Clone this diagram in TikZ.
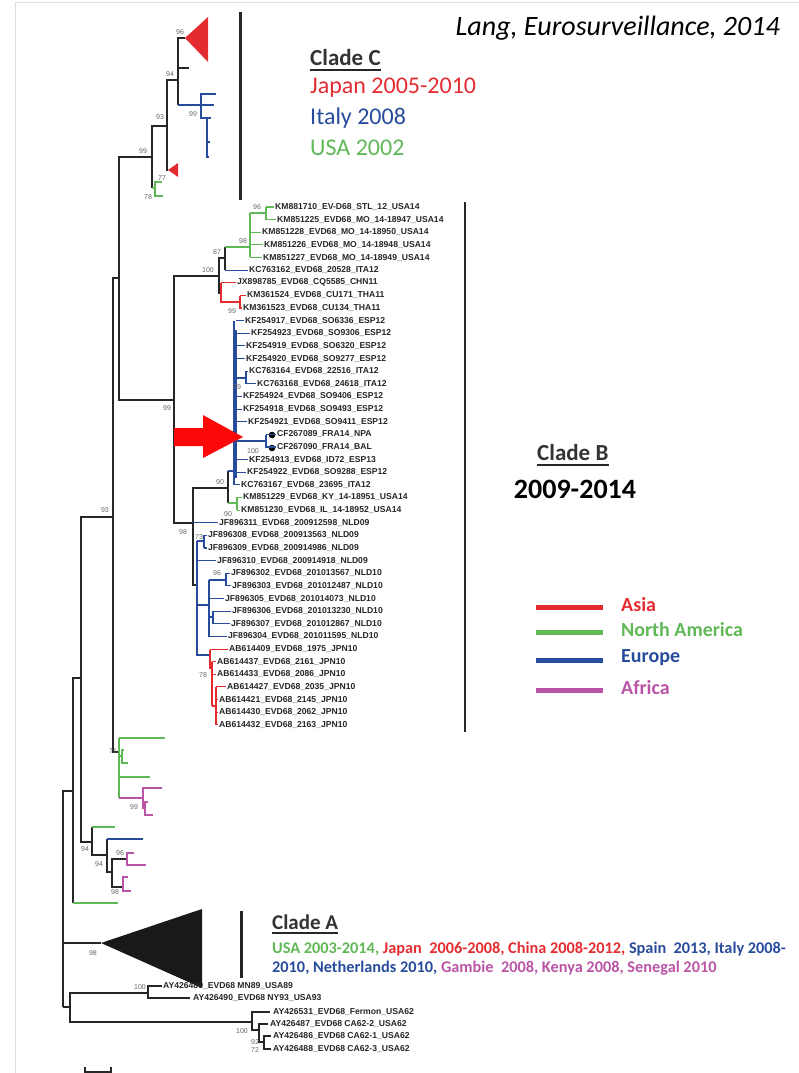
\documentclass[tikz,border=0pt]{standalone}
\usepackage{fontspec}
\setmainfont{Carlito}
\newfontfamily\tipfont{Liberation Sans}
\usetikzlibrary{calc}
\definecolor{asia}{RGB}{228,44,48}
\definecolor{namer}{RGB}{96,184,86}
\definecolor{europe}{RGB}{40,76,156}
\definecolor{africa}{RGB}{186,84,166}
\definecolor{arrowred}{RGB}{252,8,8}
\tikzset{
  br/.style={line width=1.1pt, black!85},
  tiplab/.style={anchor=west, inner sep=0pt, text=black!85,
    font=\tipfont\bfseries\fontsize{8.6}{8.6}\selectfont},
  boot/.style={inner sep=0pt, text=black!60, font=\tipfont\fontsize{7}{7}\selectfont},
  cladebar/.style={line width=3pt, black!85},
  ul/.style={line width=2.2pt, black!85},
  legline/.style={line width=5pt},
}
\begin{document}
\begin{tikzpicture}[x=1pt, y=-1pt]
  \useasboundingbox (0,0) rectangle (799,1073);
  \draw[black!12, line width=1pt] (799,3) -- (15,3) -- (15,1073);

  % backbone
  \draw[br, line width=1.6pt] (73,791) -| (63,1007);
  \draw[br] (63,943) -- (101,943);
  \draw[br] (81,678) -| (73,903);
  \draw[br, namer] (73,903) -- (118,903);
  \draw[br] (113,517) -| (81,842) -- (92,842);
  \draw[br] (119,278) -| (113,752) -- (119,752);
  \draw[br] (152,157) -| (119,400) -- (174,400);

  % clade C
  \draw[br] (167,126) -| (152,188);
  \draw[br, namer] (152,188) -- (155,188);
  \draw[br, namer] (162,182) -| (155,196) -- (163,196);
  \draw[br] (178,80) -| (167,170) -- (168,170);
  \fill[asia] (168,170) -- (178,163) -- (178,177) -- cycle;
  \draw[br] (185,38) -| (178,105);
  \draw[br, line width=2pt] (178,57) -- (178,80);
  \draw[br] (178,68) -- (189,68);
  \fill[asia] (185,38) -- (208,17) -- (208,62) -- cycle;
  \draw[br, europe] (178,105) -- (214,105);
  \draw[br, europe] (216,94) -| (201,118) -- (207,118) -- (211,118);
  \draw[br, europe] (207,118) -- (207,157) -- (209,157);
  \draw[br, europe] (207,142) -- (210,142);
  \draw[cladebar] (240,12) -- (240,200);

  % clade B
  \draw[br] (219,276) -| (174,523) -- (193,523);
  \draw[br] (225,258) -| (219,293) -- (221,293);
  \draw[br] (225,247) -- (225,270);
  \draw[br, namer] (225,247) -- (250,247);
  \draw[br, namer] (250,213) -- (250,257);
  \draw[br, namer] (250,213) -- (266,213);
  \draw[br, namer] (266,207) -- (266,220);
  \draw[br, asia] (221,283) -- (221,302) -- (240,302);
  \draw[br, asia] (240,296) -- (240,309);
  \draw[br] (228,488) -| (193,585) -- (197,585);
  \draw[br] (228,471) -- (228,503);
  \draw[br, europe] (228,471) -- (234,471);
  \draw[br, europe] (234,321) -- (234,485);
  \draw[br, europe, line width=1.5pt] (236,330) -- (236,478);
  \draw[br, europe] (236,378) -- (246,378);
  \draw[br, europe] (246,371) -- (246,384);
  \draw[br, europe] (236,441) -- (266,441);
  \draw[br, europe] (266,435) -- (266,448);
  \fill (272,435) circle (3.3);
  \fill (272,448) circle (3.3);
  \draw[br, namer] (228,503) -- (237,503);
  \draw[br, namer] (237,497) -- (237,510);
  \draw[br, europe] (197,541) -- (197,655) -- (210,655);
  \draw[br, europe] (197,541) -- (204,541);
  \draw[br, europe] (204,535) -- (204,548);
  \draw[br, europe] (197,605) -- (209,605);
  \draw[br, europe] (209,580) -- (209,637);
  \draw[br, europe] (209,580) -- (226,580);
  \draw[br, europe] (226,573) -- (226,586);
  \draw[br, europe] (209,617) -- (213,617);
  \draw[br, europe] (213,611) -- (213,624);
  \draw[br, asia] (210,650) -- (210,668) -- (212,668);
  \draw[br, asia, line width=1.8pt] (212,662) -- (212,706);
  \draw[br, asia] (212,706) -- (216,706);
  \draw[br, asia] (216,687) -- (216,725);
  \draw[cladebar, line width=2.5pt] (465,202) -- (465,732);

  % tips of clade B: row / parent x / label x / colour / name
  \foreach \r/\p/\x/\c/\t in {
    1/266/275/namer/KM881710\_EV-D68\_STL\_12\_USA14,
    2/266/277/namer/KM851225\_EVD68\_MO\_14-18947\_USA14,
    3/250/262/namer/KM851228\_EVD68\_MO\_14-18950\_USA14,
    4/250/264/namer/KM851226\_EVD68\_MO\_14-18948\_USA14,
    5/250/263/namer/KM851227\_EVD68\_MO\_14-18949\_USA14,
    6/225/249/europe/KC763162\_EVD68\_20528\_ITA12,
    7/221/237/asia/JX898785\_EVD68\_CQ5585\_CHN11,
    8/240/247/asia/KM361524\_EVD68\_CU171\_THA11,
    9/240/243/asia/KM361523\_EVD68\_CU134\_THA11,
    10/236/245/europe/KF254917\_EVD68\_SO6336\_ESP12,
    11/236/251/europe/KF254923\_EVD68\_SO9306\_ESP12,
    12/236/246/europe/KF254919\_EVD68\_SO6320\_ESP12,
    13/236/246/europe/KF254920\_EVD68\_SO9277\_ESP12,
    14/246/249/europe/KC763164\_EVD68\_22516\_ITA12,
    15/246/257/europe/KC763168\_EVD68\_24618\_ITA12,
    16/236/243/europe/KF254924\_EVD68\_SO9406\_ESP12,
    17/236/243/europe/KF254918\_EVD68\_SO9493\_ESP12,
    18/236/248/europe/KF254921\_EVD68\_SO9411\_ESP12,
    19/266/277/europe/CF267089\_FRA14\_NPA,
    20/266/277/europe/CF267090\_FRA14\_BAL,
    21/236/249/europe/KF254913\_EVD68\_ID72\_ESP13,
    22/236/247/europe/KF254922\_EVD68\_SO9288\_ESP12,
    23/234/241/europe/KC763167\_EVD68\_23695\_ITA12,
    24/237/243/namer/KM851229\_EVD68\_KY\_14-18951\_USA14,
    25/237/241/namer/KM851230\_EVD68\_IL\_14-18952\_USA14,
    26/193/219/europe/JF896311\_EVD68\_200912598\_NLD09,
    27/204/208/europe/JF896308\_EVD68\_200913563\_NLD09,
    28/204/208/europe/JF896309\_EVD68\_200914986\_NLD09,
    29/197/217/europe/JF896310\_EVD68\_200914918\_NLD09,
    30/226/231/europe/JF896302\_EVD68\_201013567\_NLD10,
    31/226/232/europe/JF896303\_EVD68\_201012487\_NLD10,
    32/209/225/europe/JF896305\_EVD68\_201014073\_NLD10,
    33/213/232/europe/JF896306\_EVD68\_201013230\_NLD10,
    34/213/231/europe/JF896307\_EVD68\_201012867\_NLD10,
    35/209/228/europe/JF896304\_EVD68\_201011595\_NLD10,
    36/210/229/asia/AB614409\_EVD68\_1975\_JPN10,
    37/212/217/asia/AB614437\_EVD68\_2161\_JPN10,
    38/212/217/asia/AB614433\_EVD68\_2086\_JPN10,
    39/216/227/asia/AB614427\_EVD68\_2035\_JPN10,
    40/216/219/asia/AB614421\_EVD68\_2145\_JPN10,
    41/216/219/asia/AB614430\_EVD68\_2062\_JPN10,
    42/216/219/asia/AB614432\_EVD68\_2163\_JPN10}{
    \draw[br, \c] (\p,{207+12.63*(\r-1)}) -- ({\x-1.5},{207+12.63*(\r-1)});
    \node[tiplab] (t\r) at (\x,{207+12.63*(\r-1)}) {\t};
  }

  % arrow to the French strains
  \fill[arrowred] (174,428) -- (203,428) -- (203,415) -- (243,437)
    -- (203,458) -- (203,446) -- (174,446) -- cycle;

  % lower lineages
  \draw[br, namer] (119,738) -- (119,798);
  \draw[br, namer, line width=2pt] (119,753) -- (119,787);
  \draw[br, namer] (119,738) -- (165,738);
  \draw[br, namer] (119,756) -- (122,756);
  \draw[br, namer] (124,750) -| (122,763) -- (128,763);
  \draw[br, namer] (119,777) -- (150,777);
  \draw[br, africa] (119,798) -- (143,798);
  \draw[br, africa] (162,788) -| (143,808) -- (145,808);
  \draw[br, africa] (148,802) -| (145,815) -- (153,815);
  \draw[br] (92,827) -- (92,855) -- (107,855);
  \draw[br, namer] (92,827) -- (115,827);
  \draw[br] (107,839) -- (107,872) -- (112,872);
  \draw[br, europe] (107,839) -- (143,839);
  \draw[br] (127,859) -| (112,887) -- (123,887);
  \draw[br, africa] (134,853) -| (127,865) -- (146,865);
  \draw[br, africa] (128,877) -| (123,891) -- (131,891);

  % clade A
  \fill[black!90] (101,943) -- (202,909) -- (202,988) -- cycle;
  \draw[cladebar] (241,911) -- (241,978);

  % outgroup
  \draw[br] (63,1007) -- (70,1007);
  \draw[br] (148,993) -| (70,1022) -- (252,1022);
  \draw[br] (162,986) -| (148,998) -- (190,998);
  \draw[br] (270,1012) -| (252,1030) -- (259,1030);
  \draw[br] (268,1024) -| (259,1042) -- (264,1042);
  \draw[br] (271,1036) -| (264,1049) -- (271,1049);
  \node[tiplab] (o1) at (163,986) {AY426489\_EVD68 MN89\_USA89};
  \node[tiplab] (o2) at (193,998) {AY426490\_EVD68 NY93\_USA93};
  \node[tiplab] (o3) at (273,1012) {AY426531\_EVD68\_Fermon\_USA62};
  \node[tiplab] (o4) at (270,1024) {AY426487\_EVD68 CA62-2\_USA62};
  \node[tiplab] (o5) at (273,1036) {AY426486\_EVD68 CA62-1\_USA62};
  \node[tiplab] (o6) at (273,1049) {AY426488\_EVD68 CA62-3\_USA62};
  \draw[br] (85,1067) -- (85,1072) -- (111,1072) -- (111,1067);

  % bootstrap values
  \foreach \x/\y/\v [count=\i] in {180/32/96, 170/74/94, 160/117/93, 193/114/99,
      143/151/99, 162/178/77, 148/197/78, 257/207/96, 243/241/98, 217/252/87,
      208/270/100, 232/311/99, 237/387/99, 167/408/99, 253/451/100, 220/482/90,
      228/514/90, 183/532/98, 199/537/73, 217/573/96, 203/675/78, 105/510/93,
      113/751/71, 134/807/99, 85/849/94, 99/864/94, 120/853/96, 115/892/98,
      93/953/98, 140/987/100, 242/1031/100, 255/1042/92, 255/1050/72}
    \node[boot] (b\i) at (\x,\y) {\v};

  % texts
  \node[anchor=east, inner sep=0pt, font=\itshape\fontsize{28}{28}\selectfont]
    (src) at (780,28) {Lang, Eurosurveillance, 2014};

  \node[anchor=west, inner sep=0pt, text=black!80, font=\bfseries\fontsize{23}{23}\selectfont]
    (cladeC) at (310,58) {Clade C};
  \draw[ul] ($(cladeC.base west)+(0,4)$) -- ($(cladeC.base east)+(0,4)$);
  \node[anchor=west, inner sep=0pt, text=asia, font=\fontsize{24}{24}\selectfont]
    (jpn) at (310,88) {Japan 2005-2010};
  \node[anchor=west, inner sep=0pt, text=europe, font=\fontsize{24}{24}\selectfont]
    (ita) at (310,118) {Italy 2008};
  \node[anchor=west, inner sep=0pt, text=namer, font=\fontsize{24}{24}\selectfont]
    (usa) at (310,148) {USA 2002};

  \node[anchor=west, inner sep=0pt, text=black!80, font=\bfseries\fontsize{23}{23}\selectfont]
    (cladeB) at (537,453) {Clade B};
  \draw[ul] ($(cladeB.base west)+(0,4)$) -- ($(cladeB.base east)+(0,4)$);
  \node[inner sep=0pt, font=\bfseries\fontsize{28}{28}\selectfont]
    (years) at (575,489) {2009-2014};

  \foreach \y/\c/\n/\t in {607/asia/asia/Asia, 632/namer/namer/North America,
      660/europe/europe/Europe, 690/africa/africa/Africa}{
    \draw[legline, \c] (536,\y) -- (603,\y);
    \node[anchor=west, inner sep=0pt, text=\c, font=\bfseries\fontsize{20}{20}\selectfont]
      (leg\n) at (621,\y-2) {\t};
  }

  \node[anchor=west, inner sep=0pt, text=black!80, font=\bfseries\fontsize{21}{21}\selectfont]
    (cladeA) at (272,922) {Clade A};
  \draw[ul] ($(cladeA.base west)+(0,4)$) -- ($(cladeA.base east)+(0,4)$);
  \node[anchor=west, inner sep=0pt, font=\bfseries\fontsize{16.3}{16.3}\selectfont]
    (lineA1) at (272,949) {\textcolor{namer}{USA 2003-2014,} \textcolor{asia}{Japan~~2006-2008, China 2008-2012,} \textcolor{europe}{Spain~~2013, Italy 2008-}};
  \node[anchor=west, inner sep=0pt, font=\bfseries\fontsize{16.3}{16.3}\selectfont]
    (lineA2) at (272,968) {\textcolor{europe}{2010, Netherlands 2010,} \textcolor{africa}{Gambie~~2008, Kenya 2008, Senegal 2010}};
\end{tikzpicture}
\end{document}
